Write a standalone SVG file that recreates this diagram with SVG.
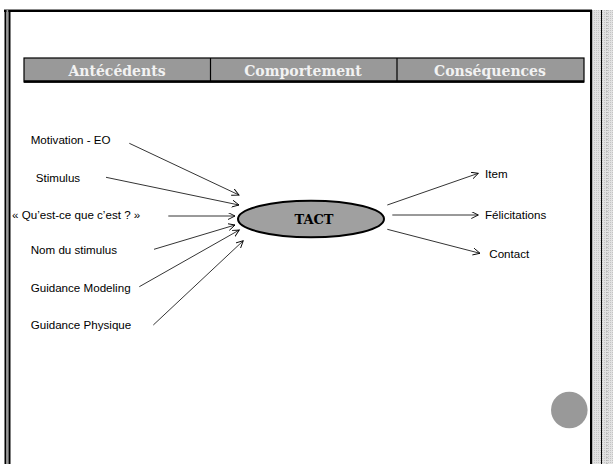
<svg xmlns="http://www.w3.org/2000/svg" width="613" height="464" viewBox="0 0 613 464">
<defs>
<style>
.lbl{font-family:"Liberation Sans",Arial,sans-serif;font-size:11.6px;fill:#000}
.hdr{font-family:"DejaVu Serif","Liberation Serif",serif;font-weight:bold;font-size:14px;fill:#f2f2f2;text-anchor:middle}
.cn{stroke:#000;stroke-width:0.8;fill:none;marker-end:url(#ah)}
</style>
<marker id="ah" markerWidth="10" markerHeight="10" refX="7" refY="3.5" orient="auto" markerUnits="userSpaceOnUse">
<path d="M0,0 L7,3.5 L0,7" fill="none" stroke="#000" stroke-width="0.9"/>
</marker>
<pattern id="stip" width="2" height="2" patternUnits="userSpaceOnUse">
<rect width="2" height="2" fill="#e2e2e2"/>
<rect width="1" height="1" fill="#c4c4c4"/>
</pattern>
</defs>
<rect width="613" height="464" fill="#fff"/>
<g id="frame">
<rect x="593" y="10" width="20" height="454" fill="url(#stip)"/>
<line x1="601.5" y1="10" x2="601.5" y2="464" stroke="#000" stroke-width="1"/>
<line x1="607" y1="10" x2="607" y2="464" stroke="#999" stroke-width="1" stroke-dasharray="1,2"/>
<line x1="4" y1="9.5" x2="592" y2="9.5" stroke="#888" stroke-width="1"/>
<line x1="4" y1="11" x2="592" y2="11" stroke="#000" stroke-width="2"/>
<rect x="4.5" y="10" width="2" height="454" fill="#000"/>
<rect x="6.5" y="10" width="2" height="454" fill="#999"/>
<rect x="8.5" y="10" width="2" height="454" fill="#000"/>
<rect x="590" y="10" width="2.3" height="454" fill="#000"/>
</g>
<g id="header">
<rect x="24" y="58" width="560" height="24" fill="#999" stroke="#000" stroke-width="1.2"/>
<line x1="24" y1="81.5" x2="584" y2="81.5" stroke="#000" stroke-width="2.5"/>
<line x1="210.5" y1="58" x2="210.5" y2="82" stroke="#000" stroke-width="1.2"/>
<line x1="397" y1="58" x2="397" y2="82" stroke="#000" stroke-width="1.2"/>
<text class="hdr" x="117" y="76">Antécédents</text>
<text class="hdr" x="303" y="76">Comportement</text>
<text class="hdr" x="490" y="76">Conséquences</text>
</g>
<g id="n-motivation"><text class="lbl" x="30.7" y="144">Motivation - EO</text></g>
<g id="n-stimulus"><text class="lbl" x="35.7" y="182">Stimulus</text></g>
<g id="n-question"><text class="lbl" x="12" y="218.5">« Qu’est-ce que c’est ? »</text></g>
<g id="n-nom"><text class="lbl" x="30.7" y="254">Nom du stimulus</text></g>
<g id="n-modeling"><text class="lbl" x="30.7" y="291.5">Guidance Modeling</text></g>
<g id="n-physique"><text class="lbl" x="30.7" y="329">Guidance Physique</text></g>
<g id="n-tact">
<ellipse cx="311" cy="219" rx="73" ry="18.3" fill="#a0a0a0" stroke="#000" stroke-width="2"/>
<text x="314" y="224" font-family="DejaVu Serif,'Liberation Serif',serif" font-weight="bold" font-size="13px" text-anchor="middle" fill="#000">TACT</text>
</g>
<g id="n-item"><text class="lbl" x="485" y="177.5">Item</text></g>
<g id="n-felic"><text class="lbl" x="485" y="219">Félicitations</text></g>
<g id="n-contact"><text class="lbl" x="489.3" y="257.5">Contact</text></g>
<g id="connectors">
<line class="cn" x1="129.3" y1="143.3" x2="239" y2="195"/>
<line class="cn" x1="106" y1="177.3" x2="239" y2="205"/>
<line class="cn" x1="168.3" y1="216" x2="235" y2="216"/>
<line class="cn" x1="154" y1="249.3" x2="235" y2="225"/>
<line class="cn" x1="139.3" y1="286.7" x2="239.3" y2="230"/>
<line class="cn" x1="153.3" y1="325" x2="243.3" y2="240.7"/>
<line class="cn" x1="387.3" y1="205" x2="478.3" y2="173.3"/>
<line class="cn" x1="392.3" y1="215" x2="478.3" y2="215"/>
<line class="cn" x1="387.3" y1="229.3" x2="480" y2="253.3"/>
</g>
<g id="badge"><circle cx="569.3" cy="410" r="18.3" fill="#999"/></g>
</svg>
